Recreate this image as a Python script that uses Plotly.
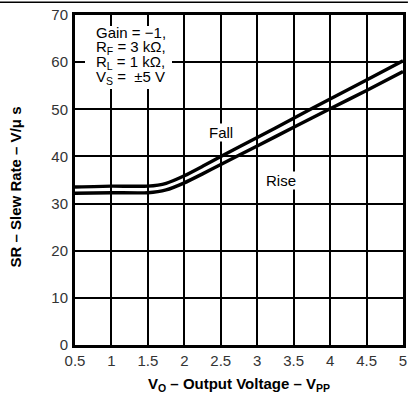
import plotly.graph_objects as go

vo = [0.5, 1.0, 1.5, 1.75, 2.0, 2.25, 2.5, 3.0, 3.5, 4.0, 4.5, 5.0]
sr_fall = [33.5, 33.7, 33.7, 34.3, 35.9, 37.9, 40.0, 44.0, 48.1, 52.2, 56.2, 60.3]
sr_rise = [32.2, 32.3, 32.3, 32.9, 34.4, 36.3, 38.3, 42.2, 46.2, 50.1, 54.0, 58.0]

x_ticks = [0.5, 1, 1.5, 2, 2.5, 3, 3.5, 4, 4.5, 5]
x_tick_labels = ["0.5", "1", "1.5", "2", "2.5", "3", "3.5", "4", "4.5", "5"]
y_ticks = [0, 10, 20, 30, 40, 50, 60, 70]

conditions = ["Gain = −1,", "R<sub>F</sub> = 3 kΩ,", "R<sub>L</sub> = 1 kΩ,", "V<sub>S</sub> =  ±5 V"]

FONT = "Liberation Sans, Arial, sans-serif"
FS = 15

fig = go.Figure()
fig.add_trace(go.Scatter(x=vo, y=sr_fall, mode="lines", name="Fall",
                         line=dict(color="black", width=3.4, shape="spline", smoothing=0.6)))
fig.add_trace(go.Scatter(x=vo, y=sr_rise, mode="lines", name="Rise",
                         line=dict(color="black", width=3.4, shape="spline", smoothing=0.6)))

fig.update_layout(
    width=411, height=394,
    margin=dict(l=75, r=8, t=15, b=49),
    plot_bgcolor="white", paper_bgcolor="white",
    showlegend=False,
    font=dict(family=FONT, size=FS, color="#333"),
    xaxis=dict(range=[0.5, 5], tickvals=x_ticks, ticktext=x_tick_labels,
               showgrid=True, gridcolor="black", gridwidth=1.8,
               showline=True, linecolor="black", linewidth=3, mirror=True,
               zeroline=False, ticks="", automargin=False,
               tickfont=dict(size=FS, color="#333"),
               title=dict(text="<b>V<sub>O</sub> – Output Voltage – V<sub>PP</sub></b>",
                          font=dict(size=FS, color="black"))),
    yaxis=dict(range=[0, 70], tickvals=y_ticks,
               showgrid=True, gridcolor="black", gridwidth=1.8,
               showline=True, linecolor="black", linewidth=3, mirror=True,
               zeroline=False, ticks="", automargin=False, ticklabelstandoff=1,
               tickfont=dict(size=FS, color="#333")),
)

# y-axis title as rotated annotation
fig.add_annotation(x=(5 - 75) / 328, y=0.479, xref="paper", yref="paper",
                   text="<b>SR – Slew Rate – V/μ s</b>", textangle=-90, showarrow=False,
                   font=dict(size=FS, color="black"))

# white box behind condition text
fig.add_shape(type="rect", xref="paper", yref="paper",
              x0=(85 - 75) / 328, x1=(172 - 75) / 328,
              y0=(345 - 89) / 330, y1=(345 - 26) / 330,
              fillcolor="white", line=dict(width=0), layer="above")

line_y_px = [32.7, 47.7, 62.3, 77.3]
for txt, ypx in zip(conditions, line_y_px):
    fig.add_annotation(x=(94 - 75) / 328, y=(345 - ypx) / 330, xref="paper", yref="paper",
                       xanchor="left", yanchor="middle", text=txt, showarrow=False,
                       font=dict(size=FS, color="black"))

fig.add_annotation(x=2.5, y=45.0, text="Fall", showarrow=False, bgcolor="white",
                   font=dict(size=FS, color="black"), borderpad=0)
fig.add_annotation(x=3.33, y=35.0, text="Rise", showarrow=False, bgcolor="white",
                   font=dict(size=FS, color="black"), borderpad=0)

fig.add_shape(type="line", xref="paper", yref="paper", x0=-0.23, x1=1.015,
              y0=1.039, y1=1.039, line=dict(color="black", width=1.5))

fig.write_html("out.html", config={"displayModeBar": False},
               post_script="document.body.style.margin='0';document.body.style.overflow='hidden';")
